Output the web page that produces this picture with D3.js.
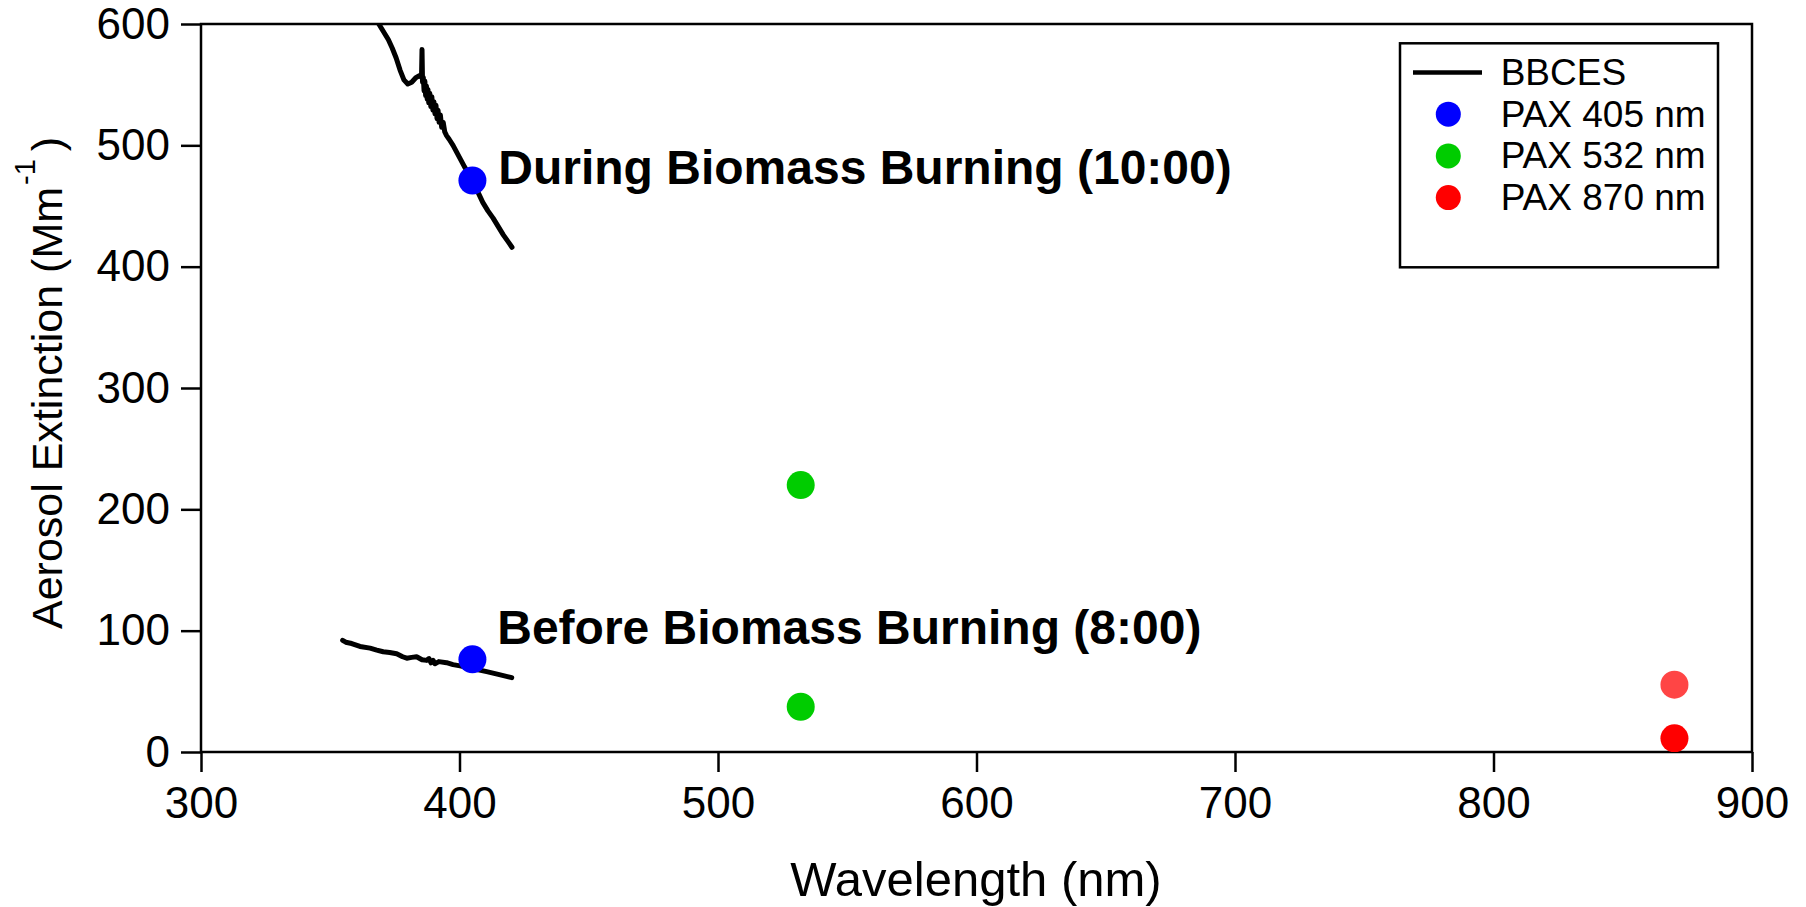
<!DOCTYPE html>
<html>
<head>
<meta charset="utf-8">
<script src="https://cdn.jsdelivr.net/npm/d3@7"></script>
<style>
  html, body { margin: 0; padding: 0; background: #fff; }
  svg { display: block; font-family: "Liberation Sans", Arial, sans-serif; }
</style>
</head>
<body>
<svg id="chart" width="1806" height="907"></svg>
<script>
// BBCES broadband extinction spectra (wavelength nm, extinction Mm^-1)
const bbcesDuringWl = [368.5, 370.5, 372.5, 374, 375.5, 377, 378.5, 380, 381.5, 383, 384.5, 385.3, 385.5, 385.7, 386.0, 386.3, 386.6, 386.9, 387.2, 387.5, 387.8, 388.1, 388.5, 388.9, 389.3, 389.7, 390.1, 390.5, 390.9, 391.3, 391.7, 392.1, 392.6, 393.1, 393.7, 394.3, 395, 396, 397.5, 399, 400.5, 402, 403.5, 405, 407, 409, 411, 413, 415, 417, 419, 420.3];
const bbcesDuringExt = [601, 594, 587, 580, 572, 562, 554, 550.5, 552, 555.5, 557.5, 556, 579, 552, 556, 545, 553, 541, 549, 538, 546, 535, 543, 532, 540, 529, 536, 526, 533, 522, 529, 519, 525, 515, 519, 511, 508, 505, 500, 494, 488, 482, 477, 471, 462, 453, 446, 440, 433, 426, 420, 416];

const bbcesBeforeWl = [354.8, 356, 358.3, 361.5, 365.4, 368, 370.5, 373, 375.7, 378, 379.6, 381.5, 383.4, 385.5, 387.3, 388.2, 389, 389.8, 390.5, 392, 395, 397.5, 400.2, 405, 410.5, 415, 420.2];
const bbcesBeforeExt = [92, 90.5, 89.4, 87, 85.6, 84, 82.6, 82, 81, 78.5, 77.3, 78, 78.5, 76, 75.5, 77, 73.5, 75.5, 72.8, 74.5, 73.6, 72, 71, 68.8, 66.2, 64, 61.3];

// PAX point measurements: [during, before]
const paxWavelengths = [405, 532, 870];
const paxDuring = [471, 220, 55.5];
const paxBefore = [76.4, 37.3, 11.3];
const paxColors = ["#0000ff", "#00cc00", "#ff0000"];
const paxDuringColors = ["#0000ff", "#00cc00", "#ff4545"];

const legendLabels = ["BBCES", "PAX 405 nm", "PAX 532 nm", "PAX 870 nm"];
const xTicks = [300, 400, 500, 600, 700, 800, 900];
const yTicks = [0, 100, 200, 300, 400, 500, 600];

const annotations = [
  { text: "During Biomass Burning (10:00)", wl: 415.0, ext: 468.5 },
  { text: "Before Biomass Burning (8:00)", wl: 414.6, ext: 89.0 }
];

const svg = d3.select("#chart");
const m = { left: 201, right: 1752, top: 24, bottom: 752 };

const x = d3.scaleLinear().domain([300, 900]).range([m.left, m.right]);
const y = d3.scaleLinear().domain([0, 600]).range([m.bottom, m.top]);

svg.append("defs").append("clipPath").attr("id", "plotClip")
  .append("rect").attr("x", m.left).attr("y", m.top)
  .attr("width", m.right - m.left).attr("height", m.bottom - m.top);

// Axes
const xAxis = svg.append("g").attr("transform", `translate(0,${m.bottom})`)
  .call(d3.axisBottom(x).tickValues(xTicks).tickSize(20).tickPadding(15).tickFormat(d3.format("d")));
const yAxis = svg.append("g").attr("transform", `translate(${m.left},0)`)
  .call(d3.axisLeft(y).tickValues(yTicks).tickSize(20).tickPadding(11).tickFormat(d3.format("d")));

[xAxis, yAxis].forEach(g => {
  g.select(".domain").remove();
  g.selectAll(".tick line").attr("stroke", "#000").attr("stroke-width", 2.5);
  g.selectAll(".tick text").attr("fill", "#000")
    .style("font-size", "44px").style("font-family", "'Liberation Sans', Arial, sans-serif");
});

// Plot frame
svg.append("rect")
  .attr("x", m.left).attr("y", m.top)
  .attr("width", m.right - m.left).attr("height", m.bottom - m.top)
  .attr("fill", "none").attr("stroke", "#000").attr("stroke-width", 2.5);

// Axis titles
svg.append("text")
  .attr("x", 976).attr("y", 896)
  .attr("text-anchor", "middle").style("font-size", "49px").attr("fill", "#000")
  .text("Wavelength (nm)");

const yTitle = svg.append("text")
  .attr("transform", "translate(62,629) rotate(-90)")
  .attr("text-anchor", "start").style("font-size", "43px").attr("fill", "#000");
yTitle.append("tspan").text("Aerosol Extinction (Mm");
yTitle.append("tspan").attr("dy", -27).attr("dx", 2).style("font-size", "29px").text("-1");
yTitle.append("tspan").attr("dy", 27).attr("dx", 8).text(")");

// BBCES curves
const plot = svg.append("g").attr("clip-path", "url(#plotClip)");
const line = d3.line().x(d => x(d[0])).y(d => y(d[1]));
const curves = [
  d3.zip(bbcesDuringWl, bbcesDuringExt),
  d3.zip(bbcesBeforeWl, bbcesBeforeExt)
];
plot.selectAll("path.bbces").data(curves).join("path")
  .attr("class", "bbces")
  .attr("d", line)
  .attr("fill", "none").attr("stroke", "#000")
  .attr("stroke-width", 5).attr("stroke-linejoin", "round").attr("stroke-linecap", "round");

// PAX points
const paxPoints = paxWavelengths.flatMap((wl, i) => [
  { wl, ext: paxBefore[i], color: paxColors[i] },
  { wl, ext: paxDuring[i], color: paxDuringColors[i] }
]);
plot.selectAll("circle.pax").data(paxPoints).join("circle")
  .attr("class", "pax")
  .attr("cx", d => x(d.wl)).attr("cy", d => y(d.ext)).attr("r", 14)
  .attr("fill", d => d.color);

// Annotations
svg.selectAll("text.annot").data(annotations).join("text")
  .attr("class", "annot")
  .attr("x", d => x(d.wl)).attr("y", d => y(d.ext))
  .style("font-size", "48px").style("font-weight", "bold").attr("fill", "#000")
  .text(d => d.text);

// Legend
const lg = svg.append("g");
lg.append("rect").attr("x", 1400).attr("y", 43.3).attr("width", 318).attr("height", 224)
  .attr("fill", "#fff").attr("stroke", "#000").attr("stroke-width", 2.5);
const rowY = i => 72.5 + i * 41.7;
lg.append("line").attr("x1", 1413).attr("x2", 1482).attr("y1", rowY(0)).attr("y2", rowY(0))
  .attr("stroke", "#000").attr("stroke-width", 4.5);
paxColors.forEach((c, i) => {
  lg.append("circle").attr("cx", 1448.3).attr("cy", rowY(i + 1)).attr("r", 12.5).attr("fill", c);
});
lg.selectAll("text").data(legendLabels).join("text")
  .attr("x", 1500.7).attr("y", (d, i) => rowY(i) + 12.5)
  .style("font-size", "37px").attr("fill", "#000")
  .text(d => d);
</script>
</body>
</html>
